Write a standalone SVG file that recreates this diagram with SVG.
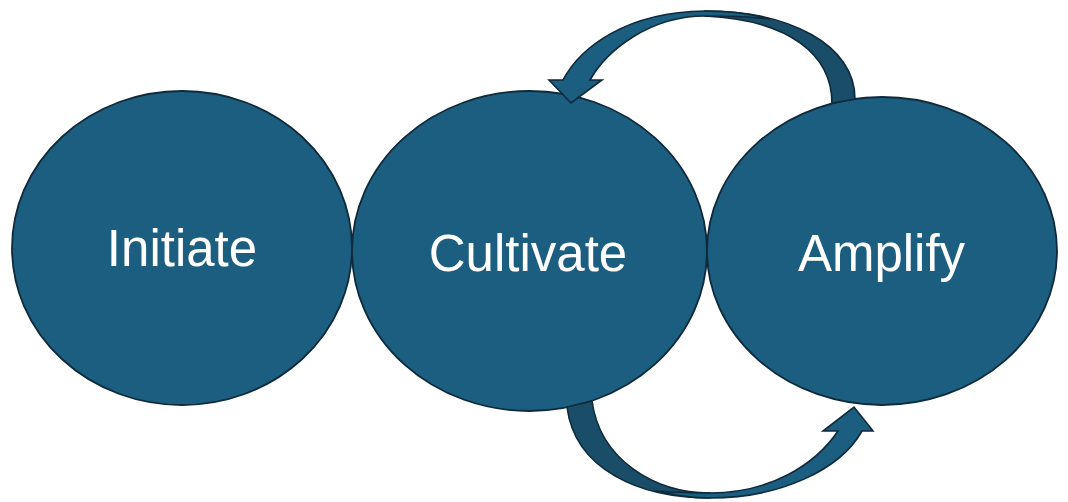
<svg xmlns="http://www.w3.org/2000/svg" width="1068" height="502" viewBox="0 0 1068 502">
<style>
.node{fill:#1c5e80;stroke:#0e2a3b;stroke-width:1.8}
.lbl{fill:#ffffff;font-family:"Liberation Sans",Arial,sans-serif;font-size:51px;text-anchor:middle}
.front{fill:#1c5e80;stroke:#0e2a3b;stroke-width:1.6;stroke-linejoin:miter}
.back{fill:#1a4d68;stroke:#0e2a3b;stroke-width:1.6}
</style>
<rect width="1068" height="502" fill="#ffffff"/>
<g id="initiate">
<ellipse class="node" cx="182" cy="248" rx="170" ry="157"/>
<text class="lbl" x="182" y="266">Initiate</text>
</g>
<g id="cultivate">
<ellipse class="node" cx="529.5" cy="251" rx="177.5" ry="160"/>
<text class="lbl" x="528" y="271">Cultivate</text>
</g>
<g id="amplify">
<ellipse class="node" cx="882" cy="251" rx="175" ry="154"/>
<text class="lbl" x="881.5" y="271">Amplify</text>
</g>
<g id="connectors">
<g id="arrow-amplify-cultivate">
<path class="back" d="M832,103.4 C832,55 790,20 705,16 L705,11 C790,11 855,45 855,99 Z"/>
<path class="front" d="M563,80 C580,48 625,12 705,11 C730,11 752,14 770,19 C750,17 725,16 705,16 C650,16 607,50 590,80 L602,80 L571,103 L549,80 Z"/>
</g>
<g id="arrow-cultivate-amplify">
<path class="back" d="M567,407 C575,470 640,498 710,498 L710,493 C655,493 600,460 592,401 Z"/>
<path class="front" d="M655,491 C675,495 690,498 710,498 C780,498 840,470 862,431 L873,431 L854,407 L823,431 L838,431 C815,465 770,493 710,493 C690,493 672,492 655,491 Z"/>
</g>
</g>
</svg>
